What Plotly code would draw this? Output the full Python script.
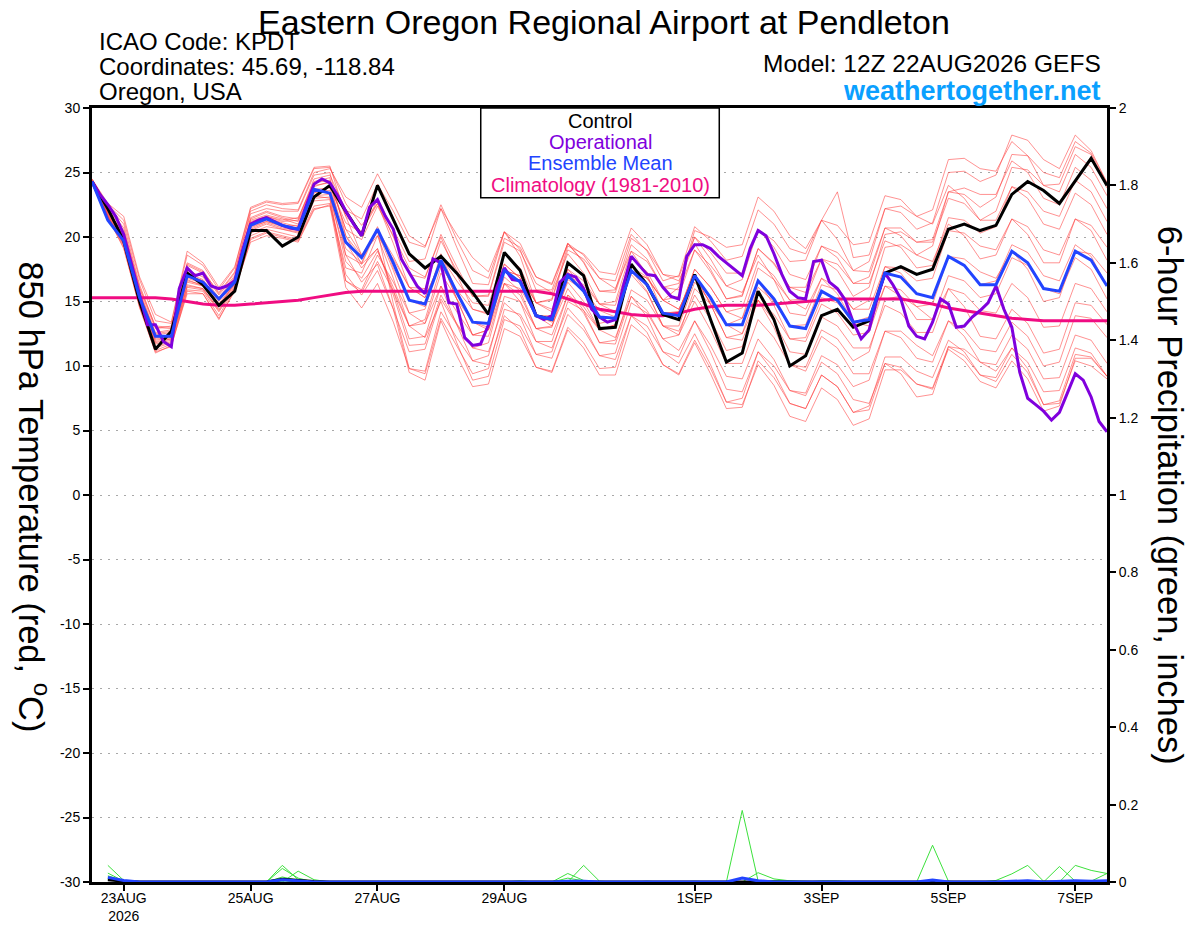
import pandas as pd
import plotly.graph_objects as go

FONT = "Liberation Sans, Arial, Helvetica, sans-serif"

RED = "rgba(255, 60, 60, 0.7)"
GREEN = "rgb(60, 225, 60)"
PURPLE = "#8000dd"
BLUE = "#2244ff"
PINK = "#f00c82"
WEB_BLUE = "#0aa0ff"

# GEFS 12Z 22AUG2026 run, 6-hourly out to 384 h (the operational run is 3-hourly)
times = pd.date_range("2026-08-22 12:00", periods=65, freq="6h")
times_op = pd.date_range("2026-08-22 12:00", periods=129, freq="3h")
times_precip = times[1:]

# 850 hPa temperature (C)
control = [
    24.3, 22.2, 19.7, 15.0, 11.3, 12.7, 17.2, 16.3, 14.7, 15.8,
    20.5, 20.5, 19.3, 20.0, 23.1, 24.0, 22.0, 20.1, 24.0, 21.4,
    18.7, 17.6, 18.5, 17.2, 15.7, 14.0, 18.8, 17.4, 13.9, 13.6,
    18.0, 17.0, 12.9, 13.0, 17.9, 16.3, 14.0, 13.6, 17.1, 13.6,
    10.3, 11.0, 15.8, 13.6, 10.0, 10.8, 13.9, 14.4, 13.0, 13.5,
    17.2, 17.7, 17.1, 17.5, 20.6, 21.0, 20.5, 20.9, 23.3, 24.3,
    23.6, 22.6, 24.4, 26.1, 24.0,
]

operational = [
    24.3, 23.3, 22.5, 21.6, 20.2, 17.8, 15.4, 13.2, 13.2, 11.9,
    11.5, 16.0, 17.6, 17.0, 17.2, 16.2, 16.0, 16.2, 16.6, 19.0,
    21.0, 21.3, 21.5, 21.2, 20.9, 20.7, 20.6, 22.4, 24.1, 24.5,
    24.2, 23.2, 22.0, 21.0, 20.1, 22.3, 22.9, 21.6, 20.6, 18.3,
    17.2, 16.2, 15.6, 18.3, 18.0, 14.9, 14.8, 12.2, 11.6, 11.7,
    13.2, 16.0, 17.6, 16.7, 16.6, 15.2, 13.9, 13.6, 13.9, 16.5,
    17.1, 16.9, 16.0, 14.4, 13.8, 13.4, 13.6, 16.2, 18.5, 17.8,
    17.1, 17.0, 16.1, 15.4, 15.2, 18.5, 19.4, 19.4, 19.1, 18.5,
    18.0, 17.5, 17.0, 19.1, 20.5, 20.1, 18.7, 17.1, 15.8, 15.3,
    15.2, 18.1, 18.2, 16.5, 16.0, 15.1, 13.4, 12.1, 12.8, 15.2,
    17.2, 16.3, 15.2, 13.1, 12.3, 12.1, 13.4, 15.2, 14.8, 13.0,
    13.1, 13.8, 14.3, 14.9, 16.2, 14.4, 13.0, 9.5, 7.5, 7.0,
    6.5, 5.8, 6.4, 7.9, 9.4, 8.9, 7.6, 5.7, 4.9,
]

ens_mean = [
    24.3, 21.3, 19.7, 15.3, 12.3, 12.3, 17.0, 16.5, 15.2, 16.5,
    20.9, 21.4, 20.9, 20.6, 23.7, 23.4, 19.6, 18.4, 20.6, 18.0,
    15.1, 14.8, 18.2, 15.7, 13.4, 13.3, 17.4, 16.5, 13.9, 13.6,
    17.0, 15.8, 13.8, 13.7, 17.4, 16.3, 14.1, 13.9, 17.0, 15.3,
    13.2, 13.2, 16.6, 15.2, 13.1, 12.9, 15.8, 15.1, 13.4, 13.6,
    17.2, 16.9, 15.6, 15.3, 18.5, 17.8, 16.3, 16.3, 18.9, 18.0,
    16.0, 15.8, 18.9, 18.2, 16.2,
]

climo = [
    15.3, 15.3, 15.3, 15.3, 15.3, 15.2, 15.0, 14.8, 14.7, 14.7,
    14.8, 14.9, 15.0, 15.1, 15.3, 15.5, 15.7, 15.8, 15.8, 15.8,
    15.8, 15.8, 15.8, 15.8, 15.8, 15.8, 15.8, 15.8, 15.8, 15.6,
    15.2, 14.8, 14.4, 14.2, 14.0, 13.9, 13.9, 14.1, 14.4, 14.6,
    14.7, 14.7, 14.7, 14.8, 14.9, 15.0, 15.1, 15.2, 15.2, 15.2,
    15.2, 15.2, 15.0, 14.8, 14.5, 14.3, 14.1, 13.9, 13.7, 13.6,
    13.5, 13.5, 13.5, 13.5, 13.5,
]

# perturbed members
mem01 = [24.4, 22.0, 20.3, 15.8, 12.6, 12.8, 17.4, 16.9, 15.3, 16.9, 21.5, 22.0, 21.6, 21.4, 24.5, 24.8,
         22.1, 21.4, 24.1, 22.0, 19.6, 19.2, 22.5, 19.8, 17.4, 16.8, 20.4, 19.0, 15.9, 15.9, 19.5, 18.6,
         16.8, 16.6, 20.2, 18.9, 16.6, 17.0, 20.8, 19.7, 18.2, 18.5, 22.1, 21.0, 19.1, 18.7, 21.3, 23.5,
         18.4, 18.6, 22.2, 21.9, 20.6, 21.1, 25.0, 25.1, 24.3, 24.8, 27.9, 27.5, 26.0, 25.3, 27.9, 26.7, 24.2]
mem02 = [24.3, 22.4, 21.0, 16.3, 13.0, 12.9, 18.0, 17.4, 15.6, 17.2, 22.0, 22.5, 22.2, 22.1, 25.0, 25.3,
         23.1, 22.3, 24.9, 22.6, 20.1, 19.3, 22.2, 19.2, 16.4, 16.3, 20.4, 19.5, 16.9, 16.4, 19.5, 18.1,
         15.8, 15.7, 19.4, 18.3, 16.1, 16.4, 20.0, 18.8, 17.2, 17.2, 20.6, 19.2, 17.1, 16.7, 19.3, 18.4,
         16.4, 16.9, 20.7, 20.7, 19.6, 19.8, 23.5, 23.3, 22.3, 23.1, 26.4, 26.3, 25.0, 24.6, 27.4, 26.5, 24.2]
mem03 = [24.2, 21.7, 19.6, 15.1, 11.8, 12.1, 16.8, 16.4, 14.8, 16.5, 20.8, 21.2, 20.8, 20.6, 23.4, 23.9,
         21.1, 20.3, 22.9, 20.6, 18.1, 18.3, 22.2, 20.2, 18.4, 17.3, 20.4, 18.5, 14.9, 15.2, 19.3, 18.7,
         17.3, 17.1, 20.7, 19.4, 17.1, 16.9, 20.0, 18.3, 16.2, 16.7, 20.6, 19.7, 18.1, 18.2, 21.3, 20.9,
         19.4, 19.6, 23.2, 22.9, 21.6, 22.1, 26.0, 26.1, 25.3, 25.1, 27.4, 26.3, 24.0, 24.1, 27.0, 26.4, 23.8]
mem04 = [24.5, 22.2, 20.5, 16.0, 12.9, 13.1, 17.8, 17.2, 15.5, 17.0, 21.2, 21.6, 21.3, 21.5, 24.2, 24.4,
         21.6, 20.4, 22.6, 20.0, 17.1, 16.8, 20.2, 17.7, 15.4, 15.4, 19.6, 18.9, 16.4, 15.7, 18.7, 17.2,
         14.8, 14.7, 18.4, 17.3, 15.1, 16.1, 20.5, 20.0, 19.2, 19.4, 23.1, 22.0, 20.1, 19.1, 21.3, 19.8,
         17.4, 17.3, 20.7, 20.1, 18.6, 19.3, 23.5, 23.8, 23.3, 23.3, 25.9, 25.0, 23.0, 22.5, 25.4, 24.4, 22.2]
mem05 = [24.3, 21.6, 19.4, 14.9, 11.5, 11.9, 16.2, 16.0, 14.3, 16.1, 20.3, 20.8, 20.6, 20.3, 23.0, 23.1,
         18.6, 17.9, 20.6, 18.5, 16.1, 16.0, 19.7, 17.4, 15.4, 15.5, 19.9, 19.2, 16.9, 16.3, 19.5, 18.0,
         15.8, 15.9, 19.9, 19.0, 17.1, 16.6, 19.5, 17.5, 15.2, 15.4, 19.1, 17.9, 16.1, 16.1, 19.3, 18.8,
         17.4, 18.1, 22.2, 22.4, 21.6, 21.0, 24.0, 23.0, 21.3, 22.0, 25.4, 25.2, 24.0, 23.5, 26.4, 25.4, 23.2]
mem06 = [24.4, 22.1, 20.1, 15.6, 12.4, 12.6, 17.2, 16.7, 15.1, 16.7, 21.4, 21.9, 21.5, 21.2, 24.0, 24.2,
         20.6, 19.8, 22.4, 20.1, 17.6, 16.9, 20.0, 17.1, 14.4, 14.1, 17.9, 16.8, 13.9, 13.9, 17.5, 16.6,
         14.8, 15.0, 18.9, 18.1, 16.1, 15.9, 19.0, 17.3, 15.2, 15.5, 19.1, 18.0, 16.1, 15.7, 18.3, 17.4,
         15.4, 16.1, 20.2, 20.4, 19.6, 19.6, 23.0, 22.6, 21.3, 21.3, 23.9, 23.0, 21.0, 20.6, 23.4, 22.5, 20.2]
mem07 = [24.2, 21.9, 20.0, 15.3, 12.1, 12.2, 16.6, 16.3, 14.6, 16.3, 21.0, 21.5, 21.1, 20.8, 23.7, 23.8,
         20.1, 18.5, 20.4, 17.4, 14.1, 14.4, 18.5, 16.6, 14.9, 14.7, 18.7, 17.6, 14.9, 15.1, 19.0, 18.3,
         16.8, 16.0, 18.9, 17.1, 14.1, 14.2, 17.5, 16.1, 14.2, 14.5, 18.1, 17.0, 15.1, 15.2, 18.3, 17.9,
         16.4, 16.4, 19.7, 19.2, 17.6, 17.8, 21.5, 21.3, 20.3, 20.8, 23.9, 23.5, 22.0, 21.6, 24.4, 23.5, 21.2]
mem08 = [24.4, 22.5, 21.3, 16.7, 13.5, 13.3, 18.6, 17.8, 15.9, 17.6, 22.2, 22.7, 22.5, 22.6, 25.3, 25.4,
         22.6, 20.9, 22.6, 19.5, 16.1, 15.3, 18.2, 15.2, 12.4, 12.8, 17.4, 17.0, 14.9, 14.2, 17.3, 15.7,
         13.3, 13.6, 17.7, 16.9, 15.1, 15.4, 19.0, 17.8, 16.2, 15.7, 18.6, 16.7, 14.1, 13.9, 16.8, 16.1,
         14.4, 15.1, 19.2, 19.4, 18.6, 18.1, 21.0, 20.1, 18.3, 18.6, 21.4, 20.8, 19.0, 18.6, 21.4, 20.5, 18.2]
mem09 = [24.3, 21.8, 19.9, 15.4, 12.2, 12.3, 16.9, 16.5, 15.0, 16.6, 20.9, 21.3, 20.9, 20.7, 23.5, 23.4,
         19.1, 18.0, 20.8, 17.6, 15.1, 14.6, 18.7, 15.7, 13.4, 13.0, 16.9, 15.8, 12.9, 13.0, 16.7, 15.9,
         14.3, 13.8, 17.1, 15.7, 13.1, 13.1, 16.5, 15.0, 13.2, 13.7, 17.6, 16.7, 15.1, 14.4, 16.8, 15.6,
         13.4, 13.8, 17.7, 17.6, 16.6, 16.8, 20.5, 20.3, 19.3, 19.0, 21.4, 20.2, 18.0, 18.0, 21.4, 20.9, 19.2]
mem10 = [24.3, 22.0, 20.2, 15.7, 12.5, 12.7, 17.1, 16.6, 15.2, 16.8, 21.3, 21.7, 21.4, 21.0, 23.9, 24.3,
         20.6, 18.6, 20.1, 16.8, 13.1, 13.6, 17.7, 15.9, 14.4, 14.0, 17.9, 16.8, 13.9, 13.4, 16.5, 15.0,
         12.8, 13.2, 17.4, 16.8, 15.1, 14.4, 17.0, 14.8, 12.2, 12.5, 16.1, 15.0, 13.1, 13.2, 16.3, 15.9,
         14.4, 14.4, 17.7, 17.2, 15.6, 15.3, 18.5, 17.8, 16.3, 16.6, 19.4, 18.8, 17.0, 16.6, 19.4, 18.5, 16.2]
mem11 = [24.1, 21.5, 19.1, 14.6, 11.0, 11.6, 15.6, 15.6, 13.6, 15.9, 19.6, 20.1, 19.9, 19.6, 22.1, 22.5,
         17.6, 17.2, 20.1, 18.3, 16.1, 15.3, 18.2, 15.2, 12.4, 12.8, 17.4, 17.0, 14.9, 14.4, 17.5, 16.1,
         13.8, 13.7, 17.4, 16.3, 14.1, 14.2, 17.5, 16.1, 14.2, 13.7, 16.6, 14.7, 12.1, 11.9, 14.8, 14.1,
         12.4, 12.6, 16.2, 15.9, 14.6, 14.8, 18.5, 18.3, 17.3, 16.8, 18.9, 17.5, 15.0, 15.3, 18.9, 18.7, 17.2]
mem12 = [24.3, 21.8, 19.8, 15.2, 12.0, 12.2, 16.5, 16.2, 14.6, 16.4, 20.7, 21.2, 20.9, 20.9, 23.6, 23.6,
         19.6, 17.6, 19.1, 15.8, 12.1, 12.3, 16.2, 14.2, 12.4, 12.3, 16.4, 15.5, 12.9, 13.1, 17.0, 16.3,
         14.8, 14.2, 17.4, 15.8, 13.1, 12.7, 15.5, 13.6, 11.2, 11.5, 15.1, 14.0, 12.1, 12.2, 15.3, 14.9,
         13.4, 13.1, 16.2, 15.4, 13.6, 13.6, 17.0, 16.6, 15.3, 15.6, 18.4, 17.8, 16.0, 15.6, 18.4, 17.5, 15.2]
mem13 = [24.2, 21.6, 19.5, 15.0, 11.7, 12.0, 16.3, 16.0, 14.4, 16.2, 20.5, 21.0, 20.6, 20.4, 23.2, 23.3,
         18.1, 16.8, 18.9, 16.1, 13.1, 13.3, 17.2, 15.2, 13.4, 12.8, 16.4, 15.0, 11.9, 11.9, 15.5, 14.6,
         12.8, 13.2, 17.4, 16.8, 15.1, 14.4, 17.0, 14.8, 12.2, 12.0, 15.1, 13.5, 11.1, 10.9, 13.8, 13.1,
         11.4, 11.4, 14.7, 14.1, 12.6, 12.6, 16.0, 15.6, 14.3, 14.1, 16.4, 15.3, 13.0, 13.1, 16.4, 16.0, 14.2]
mem14 = [24.1, 21.6, 19.3, 14.7, 11.2, 11.7, 15.9, 15.8, 13.9, 16.0, 19.9, 20.4, 20.1, 19.8, 22.4, 22.6,
         16.6, 15.9, 18.6, 16.5, 14.1, 13.3, 16.2, 13.2, 10.4, 10.8, 15.4, 15.0, 12.9, 12.4, 15.5, 14.1,
         11.8, 11.7, 15.4, 14.3, 12.1, 12.4, 16.0, 14.8, 13.2, 12.5, 15.1, 13.0, 10.1, 9.9, 12.8, 12.1,
         10.4, 11.1, 15.2, 15.4, 14.6, 13.6, 16.0, 14.6, 12.3, 12.1, 14.4, 13.3, 11.0, 11.3, 14.9, 14.7, 13.2]
mem15 = [24.4, 22.3, 20.7, 16.1, 13.1, 13.0, 17.9, 17.3, 15.7, 17.3, 21.8, 22.2, 22.0, 22.0, 24.8, 25.0,
         20.1, 17.9, 19.1, 15.5, 11.6, 11.7, 15.5, 13.3, 11.4, 11.8, 16.4, 16.0, 13.9, 13.1, 16.0, 14.3,
         11.8, 12.0, 15.9, 15.1, 13.1, 12.4, 15.0, 12.8, 10.2, 10.2, 13.6, 12.2, 10.1, 9.6, 12.3, 11.4,
         9.4, 9.4, 12.7, 12.2, 10.6, 10.3, 13.5, 12.8, 11.3, 11.1, 13.4, 12.3, 10.0, 10.3, 13.9, 13.7, 12.2]
mem16 = [24.2, 21.7, 19.7, 15.2, 11.9, 12.1, 16.7, 16.2, 14.7, 16.4, 20.6, 21.1, 20.7, 20.5, 23.2, 23.0,
         17.1, 15.5, 17.4, 14.4, 11.1, 11.3, 15.2, 13.2, 11.4, 11.1, 14.9, 13.8, 10.9, 11.1, 15.0, 14.3,
         12.8, 12.2, 15.4, 13.8, 11.1, 10.7, 13.5, 11.6, 9.2, 9.0, 12.1, 10.5, 8.1, 7.9, 10.8, 10.1,
         8.4, 8.9, 12.7, 12.7, 11.6, 10.8, 13.5, 12.3, 10.3, 10.1, 12.4, 11.3, 9.0, 9.1, 12.4, 12.0, 10.2]
mem17 = [24.1, 21.5, 19.2, 14.5, 11.1, 11.5, 15.8, 15.6, 13.7, 15.8, 19.8, 20.3, 20.0, 19.7, 22.2, 22.4,
         16.1, 14.5, 16.4, 13.4, 9.8, 9.4, 13.7, 11.5, 9.4, 9.8, 14.4, 14.0, 11.9, 11.4, 14.5, 13.1,
         10.8, 11.0, 14.9, 14.1, 12.1, 11.2, 13.5, 11.1, 8.2, 8.0, 11.1, 9.5, 7.1, 6.7, 9.3, 8.4,
         6.4, 6.9, 10.7, 10.7, 9.6, 9.1, 12.0, 11.1, 9.3, 9.1, 11.4, 10.3, 8.0, 8.1, 11.4, 11.0, 9.2]
mem18 = [24.3, 21.9, 20.1, 15.5, 12.3, 12.4, 17.0, 16.6, 15.1, 16.7, 21.1, 21.6, 21.2, 21.3, 24.3, 24.6,
         18.6, 16.5, 17.9, 14.4, 9.5, 8.9, 13.5, 10.8, 8.4, 8.6, 12.9, 12.3, 9.9, 9.6, 13.0, 11.8,
         9.8, 9.9, 13.9, 13.1, 11.1, 10.2, 12.5, 10.1, 7.2, 7.0, 10.1, 8.5, 6.1, 5.7, 8.3, 7.4,
         5.4, 5.9, 9.7, 9.7, 8.6, 8.3, 11.5, 10.8, 9.3, 8.8, 10.9, 9.5, 7.0, 7.3, 10.9, 10.7, 9.2]
mem19 = [24.5, 22.6, 21.6, 16.9, 14.0, 13.4, 18.9, 18.0, 16.1, 17.7, 22.3, 22.8, 22.6, 22.7, 25.4, 25.5,
         21.6, 18.6, 20.5, 14.8, 9.8, 9.6, 14.2, 12.2, 10.4, 10.1, 13.9, 12.8, 9.9, 9.5, 12.8, 11.4,
         9.3, 9.3, 13.2, 12.2, 10.1, 9.4, 12.0, 9.8, 7.2, 7.5, 11.1, 10.0, 8.1, 7.7, 10.3, 9.4,
         7.4, 7.1, 10.2, 9.4, 7.6, 7.8, 11.5, 11.3, 10.3, 9.6, 11.4, 9.8, 7.0, 7.1, 10.4, 10.0, 9.0]
mem20 = [24.2, 21.6, 19.4, 14.8, 11.4, 11.8, 16.1, 15.9, 14.2, 16.0, 20.1, 20.6, 20.3, 20.0, 22.8, 22.9,
         16.6, 15.7, 18.1, 15.8, 13.1, 12.2, 15.0, 11.8, 8.9, 9.2, 13.6, 13.1, 10.9, 10.6, 14.0, 12.8,
         10.8, 10.5, 13.9, 12.6, 10.1, 9.3, 11.8, 9.4, 6.7, 6.8, 10.4, 9.1, 7.1, 6.7, 9.3, 8.4,
         6.4, 6.6, 10.2, 9.9, 8.6, 8.2, 11.3, 10.4, 8.8, 8.3, 10.4, 9.0, 6.5, 6.9, 10.6, 10.6, 9.2]

members = [mem01, mem02, mem03, mem04, mem05, mem06, mem07, mem08, mem09, mem10,
           mem11, mem12, mem13, mem14, mem15, mem16, mem17, mem18, mem19, mem20]

# 6-hour precipitation (inches), from +6 h; members that are dry all run are left out
precip_a = [0.043, 0.004, 0, 0, 0, 0, 0, 0, 0, 0, 0, 0.043, 0.006, 0, 0, 0,
            0, 0, 0, 0, 0, 0, 0, 0, 0, 0, 0, 0, 0, 0, 0, 0,
            0, 0, 0, 0, 0, 0, 0, 0, 0.185, 0.003, 0, 0, 0, 0, 0, 0,
            0, 0, 0, 0, 0, 0, 0, 0, 0, 0, 0, 0, 0, 0, 0, 0]
precip_b = [0.023, 0.002, 0, 0, 0, 0, 0, 0, 0, 0, 0, 0.035, 0.010, 0, 0, 0,
            0, 0, 0, 0, 0, 0, 0, 0, 0, 0, 0, 0, 0, 0, 0, 0,
            0, 0, 0, 0, 0, 0, 0, 0, 0, 0, 0, 0, 0, 0, 0, 0,
            0, 0, 0, 0, 0.095, 0.002, 0, 0, 0, 0, 0, 0, 0, 0, 0, 0]
precip_c = [0.013, 0, 0, 0, 0, 0, 0, 0, 0, 0, 0, 0, 0.028, 0.006, 0, 0,
            0, 0, 0, 0, 0, 0, 0, 0, 0, 0, 0, 0, 0, 0.022, 0.004, 0,
            0, 0, 0, 0, 0, 0, 0, 0, 0, 0, 0, 0, 0, 0, 0, 0,
            0, 0, 0, 0, 0, 0, 0, 0, 0.004, 0.021, 0.043, 0.002, 0, 0, 0, 0]
precip_d = [0.009, 0, 0, 0, 0, 0, 0, 0, 0, 0, 0, 0.013, 0.004, 0, 0, 0,
            0, 0, 0, 0, 0, 0, 0, 0, 0, 0, 0, 0, 0, 0, 0.043, 0.002,
            0, 0, 0, 0, 0, 0, 0, 0, 0, 0.024, 0.008, 0.003, 0, 0, 0, 0,
            0, 0, 0, 0, 0, 0, 0, 0, 0, 0, 0, 0, 0.040, 0.002, 0, 0]
precip_e = [0.016, 0.003, 0, 0, 0, 0, 0, 0, 0, 0, 0, 0, 0, 0, 0, 0,
            0, 0, 0, 0, 0, 0, 0, 0, 0, 0, 0.003, 0, 0, 0.010, 0.003, 0,
            0, 0, 0, 0, 0, 0, 0, 0, 0, 0, 0, 0, 0, 0.003, 0.003, 0,
            0, 0, 0, 0, 0, 0, 0, 0, 0, 0, 0, 0, 0, 0.043, 0.030, 0.022]
precip_f = [0.006, 0, 0, 0, 0, 0, 0, 0, 0, 0, 0, 0.005, 0, 0, 0, 0,
            0, 0, 0, 0, 0, 0, 0, 0, 0, 0, 0, 0, 0, 0, 0, 0,
            0, 0, 0.002, 0, 0, 0.002, 0, 0, 0, 0, 0.004, 0.003, 0.002, 0, 0, 0,
            0, 0, 0, 0, 0, 0, 0, 0, 0, 0, 0, 0, 0, 0, 0.002, 0.022]
precip_members = [precip_a, precip_b, precip_c, precip_d, precip_e, precip_f]

control_precip = [0.006, 0.002, 0, 0, 0, 0, 0, 0, 0, 0, 0, 0.007, 0.004, 0.001, 0, 0,
                  0, 0, 0, 0, 0, 0, 0, 0, 0, 0, 0, 0, 0, 0, 0, 0,
                  0, 0, 0, 0, 0, 0, 0, 0, 0, 0, 0, 0, 0, 0, 0, 0,
                  0, 0, 0, 0, 0, 0, 0, 0, 0, 0, 0, 0, 0, 0, 0, 0]
mean_precip = [0.012, 0.004, 0, 0, 0, 0, 0, 0, 0, 0, 0, 0.006, 0.003, 0, 0, 0,
               0, 0, 0, 0, 0, 0, 0, 0, 0, 0, 0, 0, 0, 0.002, 0.002, 0,
               0, 0, 0, 0, 0, 0, 0, 0, 0.010, 0.003, 0, 0, 0, 0, 0, 0,
               0, 0, 0, 0, 0.005, 0, 0, 0, 0, 0.002, 0.003, 0, 0.002, 0.003, 0.002, 0.003]

tick_days = ["2026-08-23", "2026-08-25", "2026-08-27", "2026-08-29",
             "2026-09-01", "2026-09-03", "2026-09-05", "2026-09-07"]
tick_labels = ["23AUG<br>2026", "25AUG", "27AUG", "29AUG", "1SEP", "3SEP", "5SEP", "7SEP"]
temp_ticks = [-30, -25, -20, -15, -10, -5, 0, 5, 10, 15, 20, 25, 30]
temp_labels = ["-30", "-25", "-20", "-15", "-10", "-5", "0", "5", "10", "15", "20", "25", "30"]
precip_ticks = [0, 0.2, 0.4, 0.6, 0.8, 1, 1.2, 1.4, 1.6, 1.8, 2]
precip_labels = ["0", "0.2", "0.4", "0.6", "0.8", "1", "1.2", "1.4", "1.6", "1.8", "2"]


fig = go.Figure()

for m in members:
    fig.add_trace(go.Scatter(x=times, y=m, mode="lines",
                             line=dict(color=RED, width=0.8), hoverinfo="skip"))

fig.add_trace(go.Scatter(x=times, y=climo, mode="lines", line=dict(color=PINK, width=3)))
fig.add_trace(go.Scatter(x=times, y=control, mode="lines", line=dict(color="black", width=3)))
fig.add_trace(go.Scatter(x=times_op, y=operational, mode="lines", line=dict(color=PURPLE, width=3)))
fig.add_trace(go.Scatter(x=times, y=ens_mean, mode="lines", line=dict(color=BLUE, width=3)))

for p in precip_members:
    fig.add_trace(go.Scatter(x=times_precip, y=p, yaxis="y2", mode="lines",
                             line=dict(color=GREEN, width=1), hoverinfo="skip"))
fig.add_trace(go.Scatter(x=times_precip, y=control_precip, yaxis="y2", mode="lines",
                         line=dict(color="black", width=3)))
fig.add_trace(go.Scatter(x=times_precip, y=mean_precip, yaxis="y2", mode="lines",
                         line=dict(color=BLUE, width=3)))

# legend box in the top middle of the plot
fig.add_shape(type="rect", xref="paper", yref="paper", x0=0.383, x1=0.618, y0=0.884, y1=1.0,
              line=dict(color="black", width=1.5), fillcolor="white", layer="above")

legend_rows = [("Control", "black", 0.983), ("Operational", PURPLE, 0.956),
               ("Ensemble Mean", BLUE, 0.929), ("Climatology (1981-2010)", PINK, 0.901)]
annotations = []
for text, color, ypos in legend_rows:
    annotations.append(dict(text=text, x=0.5005, y=ypos, xref="paper", yref="paper",
                            showarrow=False, xanchor="center", yanchor="middle",
                            font=dict(size=20, color=color)))

header = [
    ("ICAO Code: KPDT", 0.005, 1.086, "left", dict(size=24)),
    ("Coordinates: 45.69, -118.84", 0.005, 1.054, "left", dict(size=24)),
    ("Oregon, USA", 0.005, 1.021, "left", dict(size=24)),
    ("Model: 12Z 22AUG2026 GEFS", 0.996, 1.057, "right", dict(size=24.5)),
    ("<b>weathertogether.net</b>", 0.996, 1.022, "right", dict(size=27, color=WEB_BLUE)),
]
for text, xpos, ypos, anchor, fnt in header:
    annotations.append(dict(text=text, x=xpos, y=ypos, xref="paper", yref="paper",
                            showarrow=False, xanchor=anchor, yanchor="middle", font=fnt))

annotations.append(dict(text="850 hPa Temperature (red, <sup>o</sup>C)", x=-0.057, y=0.498,
                        xref="paper", yref="paper", showarrow=False, textangle=90,
                        xanchor="center", yanchor="middle", font=dict(size=34.5)))
annotations.append(dict(text="6-hour Precipitation (green, inches)", x=1.062, y=0.499,
                        xref="paper", yref="paper", showarrow=False, textangle=90,
                        xanchor="center", yanchor="middle", font=dict(size=34.5)))

# the page body adds an 8 px margin, so the figure is drawn 8 px smaller on each side
fig.update_layout(
    width=1192, height=919,
    margin=dict(l=84, r=93, t=100, b=45),
    paper_bgcolor="white", plot_bgcolor="white",
    font=dict(family=FONT, color="black"),
    showlegend=False,
    title=dict(text="Eastern Oregon Regional Airport at Pendleton", x=0.5, xanchor="center",
               y=0.9848, yanchor="middle", font=dict(size=34)),
    xaxis=dict(range=[times[0], times[-1]], tickvals=tick_days, ticktext=tick_labels,
               ticks="outside", ticklen=6, tickwidth=1.5, tickcolor="black",
               showline=True, linewidth=3, linecolor="black", mirror=True,
               showgrid=False, zeroline=False, tickfont=dict(size=14),
               ticklabelstandoff=-5, automargin=False),
    yaxis=dict(range=[-30, 30], tickvals=temp_ticks, ticktext=temp_labels,
               ticks="outside", ticklen=6, tickwidth=1.5, tickcolor="black",
               showline=True, linewidth=3, linecolor="black",
               showgrid=True, gridcolor="#a8a8a8", gridwidth=1.2, griddash="2px,6px",
               zeroline=False, tickfont=dict(size=14), automargin=False),
    yaxis2=dict(range=[0, 2], overlaying="y", side="right",
                tickvals=precip_ticks, ticktext=precip_labels,
                ticks="outside", ticklen=6, tickwidth=1.5, tickcolor="black",
                showline=True, linewidth=3, linecolor="black",
                showgrid=False, zeroline=False, tickfont=dict(size=14), automargin=False),
    annotations=annotations,
)

fig.write_html("out.html", config={"displayModeBar": False})
